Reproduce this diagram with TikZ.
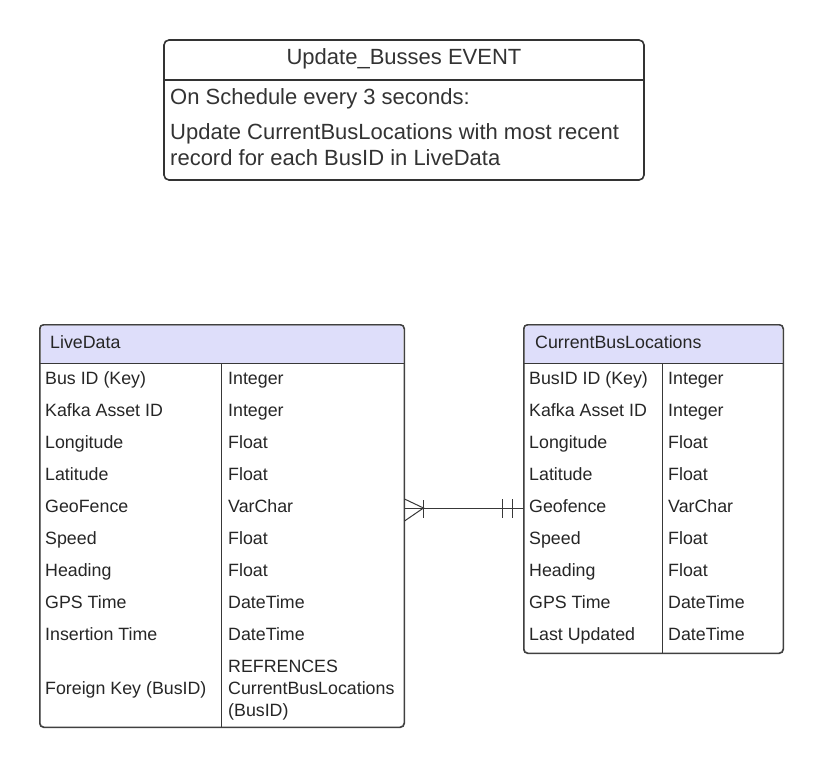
\documentclass[tikz,border=0pt]{standalone}
\usepackage{fontspec}
\setmainfont{Liberation Sans}
\usetikzlibrary{calc}
\begin{document}
\begin{tikzpicture}[x=1pt,y=-1pt,
  line/.style={draw=black!78, line width=1pt},
  txt/.style={inner sep=0pt, anchor=base west, text=black!85, font=\fontsize{17.8}{22}\selectfont},
  bigtxt/.style={inner sep=0pt, anchor=base west, text=black!80, font=\fontsize{22}{26}\selectfont},
  tbl/.style={draw=black!75, line width=1pt, rounded corners=4pt, fill=white, inner sep=0pt},
  evbox/.style={draw=black!80, line width=1.6pt, rounded corners=5pt, fill=white, inner sep=0pt}]
\definecolor{hdr}{RGB}{222,222,250}
\useasboundingbox (0,0) rectangle (824,768);
\fill[white] (0,0) rectangle (824,768);

% Event box
\node[evbox, minimum width=480pt, minimum height=140pt] (ev) at (404,110) {};
\draw[draw=black!80, line width=1.6pt] (ev.west |- 0,80) -- (ev.east |- 0,80);
\node[bigtxt, anchor=base] (evt) at (404,64.5) {Update\_Busses EVENT};
\node[bigtxt] (ev1) at (170,104.5) {On Schedule every 3 seconds:};
\node[bigtxt] (ev2) at (170,139.5) {Update CurrentBusLocations with most recent};
\node[bigtxt] (ev3) at (170,165.5) {record for each BusID in LiveData};

% LiveData table
\node[tbl, minimum width=364pt, minimum height=402pt] (ld) at (222,526) {};
\fill[hdr] (41,363) {[rounded corners=3.5pt] -- (41,325.5) -- (403,325.5)} -- (403,363) -- cycle;
\draw[line] (40,363) -- (404,363);
\draw[line] (221.5,363) -- (221.5,727);
\draw[draw=black!75, line width=1pt, rounded corners=4pt] (ld.north west) rectangle (ld.south east);
\node[txt] (ldh) at (50,348.5) {LiveData};
\foreach \i/\a/\b in {0/Bus ID (Key)/Integer, 1/Kafka Asset ID/Integer, 2/Longitude/Float, 3/Latitude/Float, 4/GeoFence/VarChar, 5/Speed/Float, 6/Heading/Float, 7/GPS Time/DateTime, 8/Insertion Time/DateTime}{
  \node[txt] (lda\i) at (45,{384.5+32*\i}) {\a};
  \node[txt] (ldb\i) at (228,{384.5+32*\i}) {\b};
}
\node[txt] (lda9) at (45,694.5) {Foreign Key (BusID)};
\node[txt] (ldb9a) at (228,672.5) {REFRENCES};
\node[txt] (ldb9b) at (228,694.5) {CurrentBusLocations};
\node[txt] (ldb9c) at (228,716.5) {(BusID)};

% CurrentBusLocations table
\node[tbl, minimum width=259pt, minimum height=328pt] (cb) at (653.5,489) {};
\fill[hdr] (525,363) {[rounded corners=3.5pt] -- (525,325.5) -- (782,325.5)} -- (782,363) -- cycle;
\draw[line] (524,363) -- (783,363);
\draw[line] (662.5,363) -- (662.5,653);
\draw[draw=black!75, line width=1pt, rounded corners=4pt] (cb.north west) rectangle (cb.south east);
\node[txt] (cbh) at (535,348.5) {CurrentBusLocations};
\foreach \i/\a/\b in {0/BusID ID (Key)/Integer, 1/Kafka Asset ID/Integer, 2/Longitude/Float, 3/Latitude/Float, 4/Geofence/VarChar, 5/Speed/Float, 6/Heading/Float, 7/GPS Time/DateTime, 8/Last Updated/DateTime}{
  \node[txt] (cba\i) at (529,{384.5+32*\i}) {\a};
  \node[txt] (cbb\i) at (668,{384.5+32*\i}) {\b};
}

% Connector (many-to-one)
\coordinate (pL) at (ld.east |- 0,508);
\coordinate (pR) at (cb.west |- 0,508);
\coordinate (foot) at ($(pL)+(19,0)$);
\draw[line] (pL) -- (pR);
\draw[line] ($(pL)+(0,-9)$) -- (foot) -- ($(pL)+(0,13)$);
\draw[line] ($(foot)+(0,-8)$) -- ($(foot)+(0,10)$);
\draw[line] ($(pR)+(-21,-9)$) -- ($(pR)+(-21,10)$);
\draw[line] ($(pR)+(-11,-9)$) -- ($(pR)+(-11,10)$);
\end{tikzpicture}
\end{document}
